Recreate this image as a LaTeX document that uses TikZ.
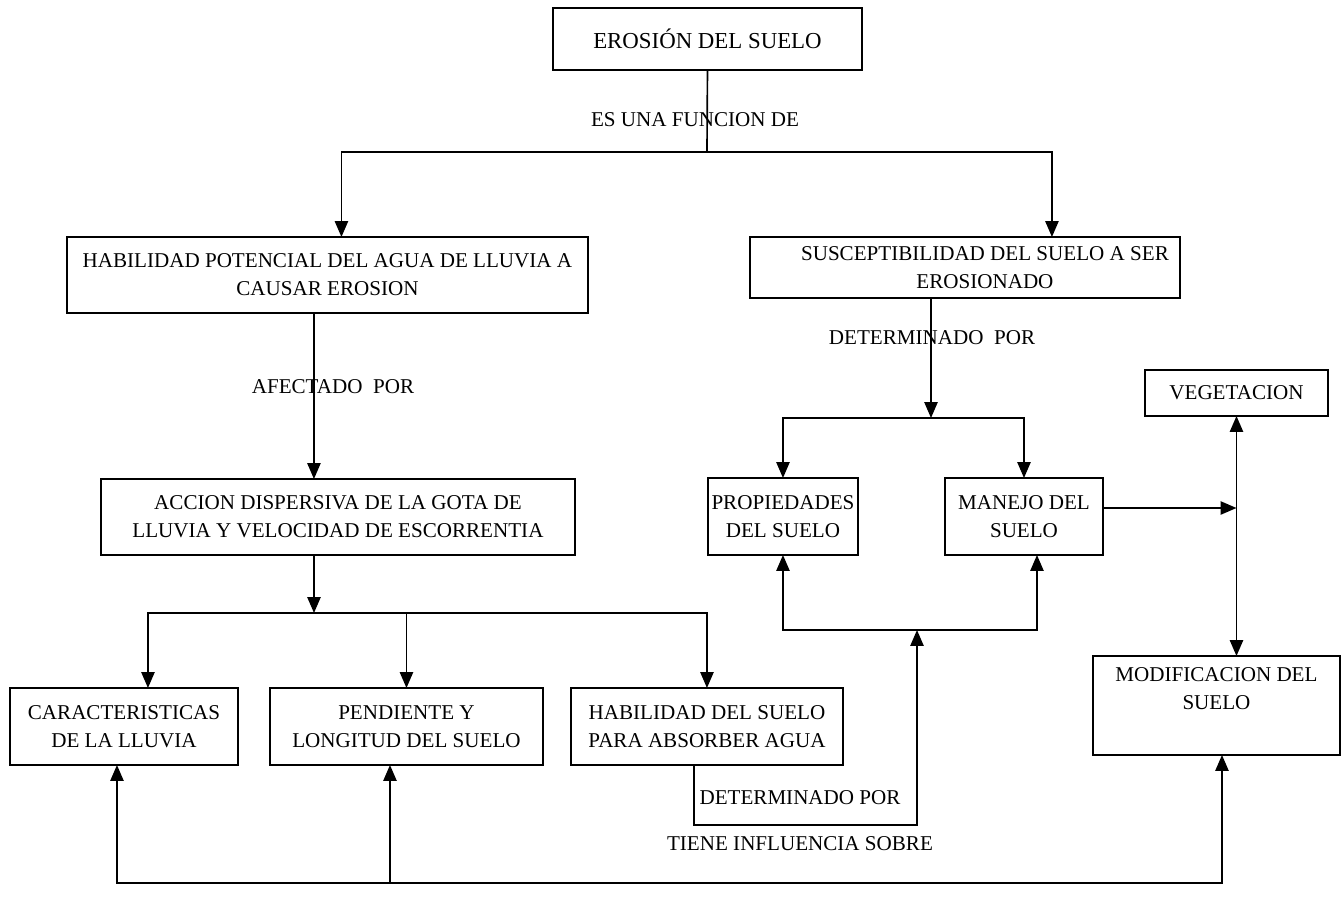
\documentclass[tikz,border=0pt]{standalone}
\usepackage{fontspec}
\setmainfont{Liberation Serif}
\usepackage{tikz}
\usetikzlibrary{arrows.meta}

\begin{document}
\begin{tikzpicture}[x=0.02cm, y=-0.02cm, outer sep=0pt, line width=0.95pt,
        flecha/.style={-{Triangle[length=9pt, width=7.5pt]}},
        doble/.style={{Triangle[length=9pt, width=7.5pt]}-{Triangle[length=9pt, width=7.5pt]}},
        caja/.style={draw, rectangle, anchor=north west, align=center, inner sep=2pt, font=\fontsize{12}{16}\selectfont},
        etiqueta/.style={inner sep=0pt, font=\fontsize{12}{16}\selectfont}]
    \useasboundingbox (0,0) rectangle (1342,903);

    % cajas
    \node (erosion) [caja, minimum width=6.18cm, minimum height=1.24cm, font=\fontsize{13}{16}\selectfont] at (553,8) {EROSIÓN DEL SUELO};
    \node (habpot) [caja, minimum width=10.42cm, minimum height=1.52cm] at (67,237) {HABILIDAD POTENCIAL DEL AGUA DE LLUVIA A\\CAUSAR EROSION};
    \node (suscep) [caja, minimum width=8.6cm, minimum height=1.22cm] at (750,237) {\hspace{0.8cm}SUSCEPTIBILIDAD DEL SUELO A SER\\\hspace{0.8cm}EROSIONADO};
    \node (accion) [caja, minimum width=9.48cm, minimum height=1.52cm] at (101,479) {ACCION DISPERSIVA DE LA GOTA DE\\LLUVIA Y VELOCIDAD DE ESCORRENTIA};
    \node (prop) [caja, minimum width=2.96cm, minimum height=1.54cm] at (708,478) {PROPIEDADES\\DEL SUELO};
    \node (manejo) [caja, minimum width=3.16cm, minimum height=1.54cm] at (945,478) {MANEJO DEL\\SUELO};
    \node (veget) [caja, minimum width=3.66cm, minimum height=0.92cm] at (1145,370) {VEGETACION};
    \node (caract) [caja, minimum width=4.56cm, minimum height=1.54cm] at (10,688) {CARACTERISTICAS\\DE LA LLUVIA};
    \node (pend) [caja, minimum width=5.46cm, minimum height=1.54cm] at (270,688) {PENDIENTE Y\\LONGITUD DEL SUELO};
    \node (habsuelo) [caja, minimum width=5.44cm, minimum height=1.54cm] at (571,688) {HABILIDAD DEL SUELO\\PARA ABSORBER AGUA};
    \node (modif) [caja, minimum width=4.94cm, minimum height=1.98cm] at (1093,656) {MODIFICACION DEL\\SUELO\\[0.1cm]};

    % etiquetas
    \node (funcion) [etiqueta] at (695,120) {ES UNA FUNCION DE};
    \node (afectado) [etiqueta] at (333,387) {AFECTADO\ \ POR};
    \node (determ1) [etiqueta] at (932,338) {DETERMINADO\ \ POR};
    \node (determ2) [etiqueta] at (800,798) {DETERMINADO POR};
    \node (influye) [etiqueta] at (800,844) {TIENE INFLUENCIA SOBRE};

    % puntos de union
    \coordinate (split1) at (707,152);
    \coordinate (split2) at (931,418);
    \coordinate (split3) at (314,613);
    \coordinate (split4) at (917,630);
    \coordinate (bend) at (917,825);
    \coordinate (base) at (0,883);

    % conectores
    \draw (erosion.south) -- (split1);
    \draw[flecha] (split1) -| ([xshift=0.28cm]habpot.north);
    \draw[flecha] (split1) -| ([xshift=1.74cm]suscep.north);
    \draw[flecha] ([xshift=-0.27cm]habpot.south) -- ([xshift=-0.27cm]habpot.south |- accion.north);
    \draw[flecha] ([xshift=-0.68cm]suscep.south) -- (split2);
    \draw[flecha] (split2) -| (prop.north);
    \draw[flecha] (split2) -| (manejo.north);
    \draw[flecha] ([xshift=-0.48cm]accion.south) -- (split3);
    \draw[flecha] (split3) -| ([xshift=0.48cm]caract.north);
    \draw[flecha] (split3) -| (pend.north);
    \draw[flecha] (split3) -| (habsuelo.north);
    \draw[flecha] ([xshift=-0.26cm]habsuelo.south) |- (bend) -- (split4);
    \draw[flecha] (split4) -| (prop.south);
    \draw[flecha] (split4) -| ([xshift=0.26cm]manejo.south);
    \draw[flecha] ([yshift=0.17cm]manejo.east) -- ([yshift=0.17cm]manejo.east -| veget.south);
    \draw[doble] (veget.south) -- (veget.south |- modif.north);
    \draw[doble] ([xshift=-0.14cm]caract.south) |- ([xshift=0.11cm]modif.south |- base) -- ([xshift=0.11cm]modif.south);
    \draw[flecha] ([xshift=-0.33cm]pend.south |- base) -- ([xshift=-0.33cm]pend.south);
\end{tikzpicture}
\end{document}
